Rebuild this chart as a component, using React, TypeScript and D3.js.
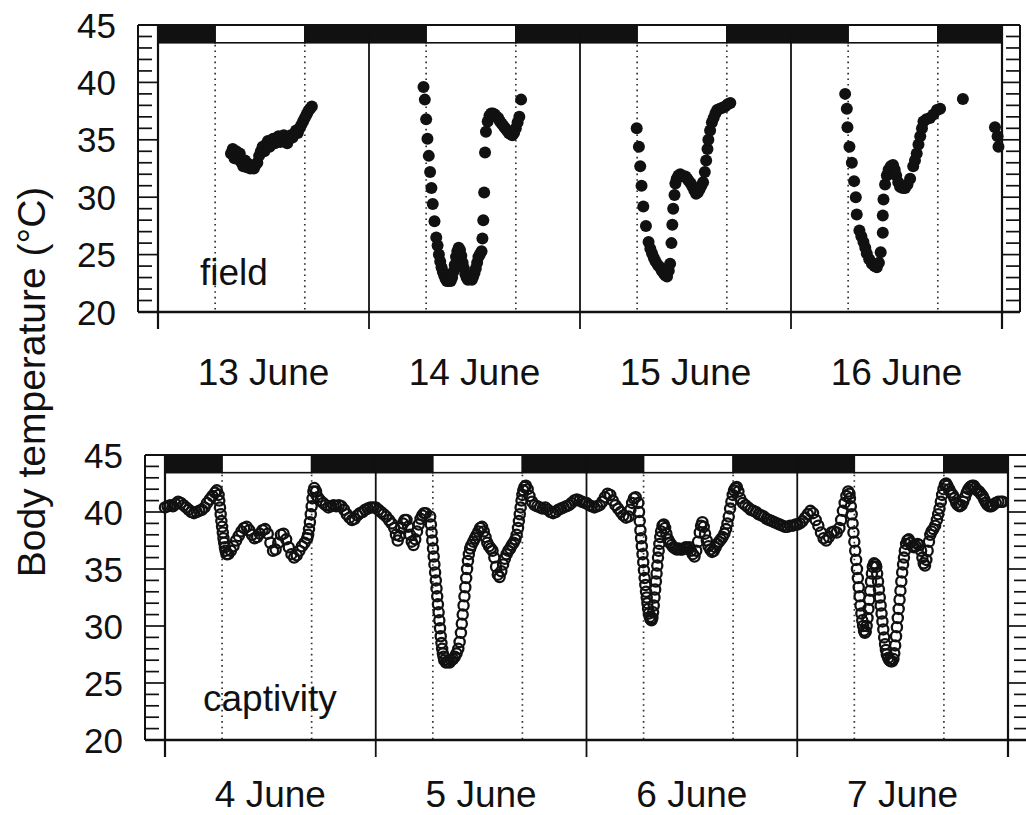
import * as d3 from 'd3';
import React from 'react';

// body temperature readings, [hour of day, °C]
const yTicks = [20, 25, 30, 35, 40, 45];
const fieldDays = ['13 June', '14 June', '15 June', '16 June'];
const captivityDays = ['4 June', '5 June', '6 June', '7 June'];
const sunrise = 6.5;
const sunset = 16.7;

const fieldJune13 = [
  [8.3, 33.8], [8.5, 34.2], [8.7, 33.4], [8.9, 34.0], [9.1, 33.3], [9.3, 33.8], [9.5, 33.0], [9.7, 32.7],
  [9.9, 33.2], [10.1, 32.6], [10.3, 32.9], [10.5, 32.5], [10.7, 32.7], [10.9, 32.5], [11.1, 32.8], [11.3, 33.0],
  [11.5, 33.6], [11.7, 34.0], [11.9, 34.4], [12.1, 34.0], [12.3, 34.6], [12.5, 34.9], [12.7, 34.4], [12.9, 34.8],
  [13.1, 35.1], [13.3, 34.7], [13.5, 35.0], [13.7, 35.3], [13.9, 34.8], [14.1, 35.2], [14.3, 35.4], [14.5, 35.0],
  [14.7, 34.7], [14.9, 35.1], [15.1, 35.4], [15.3, 35.2], [15.5, 35.5], [15.7, 35.8], [15.9, 35.6], [16.1, 36.0],
  [16.3, 36.3], [16.5, 36.6], [16.7, 36.9], [16.9, 37.2], [17.1, 37.5], [17.3, 37.7], [17.5, 37.9],
];
const fieldJune14 = [
  [6.2, 39.6], [6.35, 38.5], [6.5, 36.8], [6.65, 35.1], [6.8, 33.6], [6.95, 32.2], [7.1, 30.8], [7.25, 29.4],
  [7.45, 27.9], [7.65, 26.5], [7.8, 25.8], [7.95, 25.0], [8.1, 24.4], [8.25, 23.9], [8.4, 23.5], [8.55, 23.2],
  [8.7, 22.9], [8.85, 22.7], [9.0, 22.7], [9.15, 22.9], [9.3, 22.7], [9.45, 23.0], [9.6, 23.5], [9.75, 24.1],
  [9.9, 24.8], [10.05, 25.3], [10.2, 25.6], [10.35, 25.4], [10.5, 24.9], [10.65, 24.3], [10.8, 23.8], [10.95, 23.3],
  [11.1, 23.0], [11.25, 22.8], [11.4, 22.9], [11.55, 23.0], [11.7, 22.8], [11.85, 23.1], [12.0, 23.4], [12.15, 23.8],
  [12.3, 24.3], [12.45, 24.8], [12.6, 25.0], [12.8, 25.3], [12.9, 26.4], [13.0, 28.0], [13.1, 30.4], [13.2, 33.9],
  [13.3, 35.7], [13.5, 36.6], [13.7, 37.1], [13.9, 37.3], [14.1, 37.3], [14.3, 37.2], [14.5, 37.0], [14.7, 36.9],
  [14.9, 36.6], [15.1, 36.4], [15.3, 36.2], [15.5, 36.0], [15.7, 35.8], [15.9, 35.6], [16.1, 35.5], [16.3, 35.4],
  [16.5, 35.6], [16.7, 36.0], [16.9, 36.5], [17.1, 37.0], [17.3, 38.5],
];
const fieldJune15 = [
  [6.45, 36.0], [6.7, 34.4], [6.85, 32.7], [7.0, 31.0], [7.2, 29.2], [7.5, 27.5], [7.8, 26.1], [8.0, 25.5],
  [8.2, 25.1], [8.4, 24.7], [8.6, 24.4], [8.85, 24.1], [9.1, 23.9], [9.3, 23.6], [9.5, 23.4], [9.7, 23.2],
  [9.9, 23.1], [10.1, 23.6], [10.25, 24.2], [10.4, 26.0], [10.5, 27.6], [10.6, 29.0], [10.75, 30.2], [10.85, 31.2],
  [11.0, 31.6], [11.2, 31.9], [11.4, 32.0], [11.6, 31.9], [11.8, 31.8], [12.0, 31.8], [12.2, 31.6], [12.4, 31.4],
  [12.6, 31.2], [12.8, 30.9], [13.0, 30.6], [13.2, 30.3], [13.4, 30.4], [13.6, 30.7], [13.8, 31.0], [14.0, 31.3],
  [14.2, 32.2], [14.35, 33.2], [14.5, 34.2], [14.6, 35.0], [14.8, 35.8], [15.0, 36.5], [15.2, 36.9], [15.4, 37.3],
  [15.6, 37.6], [15.9, 37.7], [16.2, 37.8], [16.5, 37.9], [16.8, 38.1], [17.1, 38.2],
];
const fieldJune16 = [
  [6.16, 39.0], [6.35, 37.7], [6.42, 36.1], [6.65, 34.4], [6.92, 33.0], [7.18, 31.4], [7.37, 30.0], [7.48, 28.5],
  [7.78, 27.1], [8.0, 26.6], [8.24, 26.1], [8.45, 25.6], [8.62, 25.1], [8.9, 24.6], [9.2, 24.2], [9.5, 24.0],
  [9.76, 23.9], [10.0, 24.3], [10.2, 25.2], [10.44, 26.9], [10.44, 28.4], [10.52, 29.8], [10.7, 31.1], [10.9, 31.9],
  [11.1, 32.4], [11.35, 32.7], [11.6, 32.8], [11.8, 32.4], [11.96, 31.9], [12.2, 31.3], [12.4, 30.9], [12.7, 30.8],
  [12.98, 30.8], [13.25, 31.1], [13.55, 31.6], [13.9, 32.7], [14.1, 33.2], [14.3, 33.8], [14.5, 34.6], [14.7, 35.3],
  [14.9, 36.0], [15.07, 36.6], [15.4, 36.8], [15.8, 36.9], [16.2, 37.2], [16.6, 37.6], [16.96, 37.7], [19.55, 38.55],
  [23.2, 36.1], [23.5, 35.3], [23.6, 34.4],
];

const captJune4 = [
  [0.0, 40.4], [0.3, 40.5], [0.6, 40.6], [0.9, 40.5], [1.2, 40.7], [1.5, 40.9], [1.8, 40.8], [2.1, 40.6],
  [2.4, 40.4], [2.7, 40.2], [3.0, 40.0], [3.3, 39.9], [3.6, 40.0], [3.9, 40.1], [4.2, 40.2], [4.5, 40.4],
  [4.8, 40.8], [5.1, 41.1], [5.4, 41.4], [5.7, 41.7], [5.9, 41.9], [6.1, 41.5], [6.18, 41.0], [6.26, 40.4],
  [6.34, 39.8], [6.42, 39.2], [6.5, 38.7], [6.58, 38.2], [6.66, 37.7], [6.74, 37.3], [6.82, 36.9], [6.9, 36.6],
  [7.0, 36.3], [7.2, 36.3], [7.5, 36.6], [7.8, 37.0], [8.1, 37.5], [8.4, 37.9], [8.7, 38.3], [9.0, 38.6],
  [9.3, 38.7], [9.6, 38.4], [9.9, 38.0], [10.2, 37.7], [10.5, 37.8], [10.8, 38.1], [11.1, 38.4], [11.4, 38.5],
  [11.7, 38.1], [12.0, 37.3], [12.3, 36.6], [12.6, 36.7], [12.9, 37.3], [13.2, 38.0], [13.5, 38.1], [13.8, 37.6],
  [14.1, 36.9], [14.4, 36.3], [14.7, 36.0], [15.0, 36.2], [15.3, 36.6], [15.6, 37.0], [15.9, 37.3], [16.2, 37.7],
  [16.3, 38.0], [16.4, 38.5], [16.5, 39.1], [16.6, 39.8], [16.7, 40.5], [16.8, 41.2], [16.9, 41.8], [17.0, 42.1],
  [17.2, 41.8], [17.4, 41.3], [17.7, 41.0], [18.0, 40.8], [18.3, 40.6], [18.6, 40.4], [18.9, 40.5], [19.2, 40.6],
  [19.5, 40.5], [19.8, 40.6], [20.1, 40.5], [20.4, 40.2], [20.7, 39.8], [21.0, 39.5], [21.3, 39.3], [21.6, 39.4],
  [21.9, 39.7], [22.2, 39.9], [22.5, 40.0], [22.8, 40.2], [23.1, 40.3], [23.4, 40.4], [23.7, 40.4],
];
const captJune5 = [
  [0.0, 40.4], [0.3, 40.2], [0.6, 40.0], [0.9, 39.8], [1.2, 39.6], [1.5, 39.3], [1.8, 39.0], [2.1, 38.6],
  [2.3, 38.0], [2.5, 37.5], [2.7, 37.9], [2.9, 38.6], [3.1, 39.0], [3.3, 39.3], [3.5, 39.3], [3.7, 38.7],
  [3.9, 38.0], [4.1, 37.4], [4.3, 37.1], [4.5, 37.6], [4.7, 38.3], [4.9, 38.9], [5.1, 39.4], [5.3, 39.7],
  [5.5, 39.9], [5.7, 39.9], [6.2, 39.6], [6.28, 38.9], [6.36, 38.2], [6.44, 37.5], [6.52, 36.8], [6.6, 36.1],
  [6.68, 35.4], [6.76, 34.7], [6.84, 34.0], [6.92, 33.3], [7.0, 32.6], [7.08, 31.9], [7.16, 31.2], [7.24, 30.5],
  [7.32, 29.8], [7.4, 29.1], [7.48, 28.5], [7.56, 28.0], [7.64, 27.6], [7.72, 27.3], [7.8, 27.0], [8.0, 26.8],
  [8.2, 26.9], [8.4, 26.8], [8.6, 27.0], [8.8, 27.1], [9.0, 27.3], [9.2, 27.6], [9.4, 28.0], [9.55, 28.6],
  [9.7, 29.4], [9.8, 30.2], [9.9, 31.0], [10.0, 31.8], [10.1, 32.6], [10.2, 33.4], [10.3, 34.2], [10.4, 35.0],
  [10.5, 35.7], [10.6, 36.3], [10.75, 36.8], [10.9, 37.1], [11.1, 37.4], [11.3, 37.7], [11.5, 38.0], [11.7, 38.3],
  [11.9, 38.6], [12.1, 38.7], [12.3, 38.3], [12.5, 37.8], [12.7, 37.3], [12.9, 37.0], [13.1, 36.8], [13.3, 36.6],
  [13.5, 36.0], [13.7, 35.2], [13.9, 34.5], [14.1, 34.3], [14.3, 34.8], [14.5, 35.4], [14.7, 35.9], [14.9, 36.3],
  [15.1, 36.6], [15.3, 36.8], [15.5, 37.1], [15.7, 37.3], [15.9, 37.6], [16.05, 38.0], [16.2, 38.6], [16.3, 39.2],
  [16.4, 39.8], [16.5, 40.4], [16.6, 41.0], [16.7, 41.5], [16.8, 41.9], [16.95, 42.2], [17.1, 42.3], [17.3, 42.0],
  [17.5, 41.4], [17.8, 40.9], [18.1, 40.6], [18.4, 40.5], [18.7, 40.4], [19.0, 40.3], [19.3, 40.4], [19.6, 40.2],
  [19.9, 40.0], [20.2, 39.9], [20.5, 40.0], [20.8, 40.2], [21.1, 40.3], [21.4, 40.4], [21.7, 40.5], [22.0, 40.6],
  [22.3, 40.8], [22.6, 41.0], [22.9, 41.1], [23.2, 41.0], [23.5, 40.9], [23.8, 40.8],
];
const captJune6 = [
  [0.0, 40.8], [0.3, 40.6], [0.6, 40.5], [0.9, 40.4], [1.2, 40.5], [1.5, 40.6], [1.8, 40.9], [2.1, 41.3],
  [2.4, 41.6], [2.7, 41.5], [3.0, 41.0], [3.3, 40.6], [3.6, 40.3], [3.9, 40.0], [4.2, 39.7], [4.5, 39.5],
  [4.8, 39.6], [5.0, 40.2], [5.2, 40.8], [5.4, 41.2], [5.6, 41.3], [5.9, 40.8], [5.98, 40.0], [6.06, 39.2],
  [6.14, 38.4], [6.22, 37.7], [6.3, 37.0], [6.38, 36.3], [6.46, 35.6], [6.54, 34.9], [6.62, 34.2], [6.7, 33.6],
  [6.78, 33.0], [6.86, 32.5], [6.94, 32.0], [7.02, 31.5], [7.1, 31.1], [7.2, 30.8], [7.3, 30.6], [7.4, 30.5],
  [7.5, 30.7], [7.58, 31.2], [7.66, 31.8], [7.74, 32.5], [7.82, 33.2], [7.9, 33.9], [7.98, 34.6], [8.06, 35.3],
  [8.14, 36.0], [8.22, 36.6], [8.3, 37.2], [8.4, 37.8], [8.5, 38.3], [8.65, 38.8], [8.8, 38.9], [8.95, 38.6],
  [9.1, 38.1], [9.3, 37.6], [9.5, 37.3], [9.7, 37.1], [9.9, 36.9], [10.1, 36.8], [10.3, 36.7], [10.5, 36.8],
  [10.7, 36.7], [10.9, 36.7], [11.1, 36.8], [11.3, 36.9], [11.5, 36.8], [11.7, 36.9], [11.9, 36.6], [12.1, 36.3],
  [12.3, 36.1], [12.5, 36.6], [12.7, 37.4], [12.9, 38.2], [13.05, 38.8], [13.2, 39.1], [13.35, 38.7], [13.5, 38.1],
  [13.7, 37.5], [13.9, 37.0], [14.1, 36.7], [14.3, 36.5], [14.5, 36.6], [14.7, 36.9], [14.9, 37.2], [15.1, 37.4],
  [15.3, 37.6], [15.5, 37.8], [15.7, 38.1], [15.9, 38.5], [16.05, 39.0], [16.2, 39.6], [16.35, 40.3], [16.5, 40.9],
  [16.65, 41.5], [16.8, 41.9], [16.95, 42.1], [17.1, 42.2], [17.3, 41.8], [17.5, 41.2], [17.8, 40.8], [18.1, 40.6],
  [18.4, 40.4], [18.7, 40.2], [19.0, 40.1], [19.3, 40.0], [19.6, 39.8], [19.9, 39.7], [20.2, 39.6], [20.5, 39.4],
  [20.8, 39.3], [21.1, 39.2], [21.4, 39.1], [21.7, 39.0], [22.0, 38.9], [22.3, 38.8], [22.6, 38.7], [22.9, 38.7],
  [23.2, 38.8], [23.5, 38.8], [23.8, 38.9],
];
const captJune7 = [
  [0.0, 38.9], [0.3, 39.0], [0.6, 39.2], [0.9, 39.5], [1.2, 39.8], [1.5, 40.1], [1.8, 39.9], [2.1, 39.3],
  [2.4, 38.8], [2.7, 38.2], [3.0, 37.7], [3.3, 37.5], [3.6, 37.8], [3.9, 38.2], [4.2, 38.3], [4.5, 38.2],
  [4.8, 38.6], [5.0, 39.3], [5.2, 40.1], [5.4, 40.8], [5.6, 41.4], [5.8, 41.8], [5.95, 41.6], [6.0, 41.2],
  [6.1, 40.5], [6.2, 39.8], [6.3, 39.0], [6.4, 38.2], [6.5, 37.4], [6.6, 36.6], [6.7, 35.8], [6.8, 35.0],
  [6.9, 34.2], [7.0, 33.4], [7.1, 32.6], [7.2, 31.8], [7.3, 31.1], [7.4, 30.5], [7.5, 30.0], [7.6, 29.6],
  [7.7, 29.4], [7.8, 29.5], [7.9, 30.0], [8.0, 30.7], [8.1, 31.5], [8.2, 32.3], [8.3, 33.1], [8.4, 33.9],
  [8.5, 34.6], [8.6, 35.2], [8.75, 35.5], [8.9, 35.4], [9.0, 35.2], [9.1, 34.6], [9.2, 33.9], [9.3, 33.2],
  [9.4, 32.5], [9.5, 31.8], [9.6, 31.1], [9.7, 30.4], [9.8, 29.7], [9.9, 29.0], [10.0, 28.4], [10.1, 27.9],
  [10.2, 27.5], [10.35, 27.2], [10.5, 27.0], [10.65, 26.9], [10.8, 26.9], [10.95, 27.1], [11.05, 27.6], [11.15, 28.3],
  [11.25, 29.1], [11.35, 29.9], [11.45, 30.7], [11.55, 31.5], [11.65, 32.3], [11.75, 33.1], [11.85, 33.9], [11.95, 34.7],
  [12.05, 35.4], [12.15, 36.0], [12.25, 36.6], [12.4, 37.2], [12.55, 37.5], [12.7, 37.6], [12.9, 37.3], [13.1, 37.0],
  [13.3, 36.9], [13.5, 37.0], [13.7, 37.2], [13.9, 37.1], [14.1, 36.6], [14.25, 36.0], [14.4, 35.5], [14.55, 35.3],
  [14.7, 35.8], [14.85, 36.6], [15.0, 37.4], [15.15, 38.0], [15.3, 38.3], [15.5, 38.5], [15.7, 38.8], [15.9, 39.3],
  [16.05, 39.8], [16.2, 40.3], [16.35, 40.9], [16.5, 41.5], [16.65, 42.0], [16.8, 42.4], [16.95, 42.5], [17.1, 42.3],
  [17.3, 42.0], [17.5, 41.7], [17.7, 41.5], [17.9, 41.2], [18.1, 40.8], [18.3, 40.6], [18.5, 40.5], [18.7, 40.6],
  [18.9, 40.9], [19.1, 41.3], [19.3, 41.7], [19.5, 42.0], [19.7, 42.2], [19.9, 42.3], [20.1, 42.3], [20.3, 42.1],
  [20.5, 41.9], [20.7, 41.8], [20.9, 41.6], [21.1, 41.4], [21.3, 41.1], [21.5, 40.8], [21.7, 40.6], [21.9, 40.5],
  [22.1, 40.5], [22.3, 40.6], [22.6, 40.8], [22.9, 40.9], [23.2, 40.9], [23.4, 40.9],
];

const fieldSeries = [fieldJune13, fieldJune14, fieldJune15, fieldJune16];
const captivitySeries = [captJune4, captJune5, captJune6, captJune7];

const FONT = '"Liberation Sans", Arial, Helvetica, sans-serif';
const INK = '#111';

function Panel({ x0, x1, yBottom, yTop, boxL, boxR, days, series, filled, label, labelX, labelY, dateY }) {
  const x = d3.scaleLinear().domain([0, 96]).range([x0, x1]);
  const y = d3.scaleLinear().domain([20, 45]).range([yBottom, yTop]);
  const barBottom = y(43.45);

  const minor = d3.range(21, 45).filter((v) => v % 5 !== 0);
  const segments = [];
  days.forEach((_, i) => {
    const o = i * 24;
    segments.push({ a: o, b: o + sunrise, dark: true });
    segments.push({ a: o + sunrise, b: o + sunset, dark: false });
    segments.push({ a: o + sunset, b: o + 24, dark: true });
  });

  const points = [];
  series.forEach((s, i) => s.forEach(([h, t]) => points.push({ h: i * 24 + h, t })));

  return (
    <g>
      {/* tick boxes on both sides */}
      {minor.map((v) => (
        <g key={'m' + v}>
          <line x1={boxL} x2={boxL + 14} y1={y(v)} y2={y(v)} stroke={INK} strokeWidth={1.7} />
          <line x1={boxR} x2={boxR - 14} y1={y(v)} y2={y(v)} stroke={INK} strokeWidth={1.7} />
        </g>
      ))}
      {yTicks.map((v) => (
        <g key={'M' + v}>
          <line x1={boxL} x2={x0} y1={y(v)} y2={y(v)} stroke={INK} strokeWidth={1.7} />
          <line x1={x1} x2={boxR} y1={y(v)} y2={y(v)} stroke={INK} strokeWidth={1.7} />
          <text x={x0 - 42} y={y(v)} dy="0.36em" textAnchor="end" fontSize={35} fontFamily={FONT} fill={INK}>
            {v}
          </text>
        </g>
      ))}
      <line x1={boxL} x2={boxL} y1={yTop} y2={yBottom} stroke={INK} strokeWidth={2} />
      <line x1={boxR} x2={boxR} y1={yTop} y2={yBottom} stroke={INK} strokeWidth={2} />

      {/* light/dark bar */}
      {segments.map((s, i) => (
        <rect
          key={'s' + i}
          x={x(s.a)}
          y={yTop}
          width={x(s.b) - x(s.a)}
          height={barBottom - yTop}
          fill={s.dark ? INK : '#fff'}
          stroke={INK}
          strokeWidth={1.6}
        />
      ))}

      {/* sunrise / sunset */}
      {days.map((_, i) =>
        [sunrise, sunset].map((h) => (
          <line
            key={'d' + i + h}
            x1={x(i * 24 + h)}
            x2={x(i * 24 + h)}
            y1={barBottom + 2}
            y2={yBottom}
            stroke="#333"
            strokeWidth={1.7}
            strokeDasharray="1.6 4"
          />
        ))
      )}

      {/* day boundaries */}
      {d3.range(0, 5).map((i) => (
        <line key={'b' + i} x1={x(i * 24)} x2={x(i * 24)} y1={yTop} y2={yBottom + 17} stroke={INK} strokeWidth={i === 0 || i === 4 ? 2.2 : 1.8} />
      ))}
      <line x1={boxL} x2={boxR} y1={yTop} y2={yTop} stroke={INK} strokeWidth={2.2} />
      <line x1={boxL} x2={boxR} y1={yBottom} y2={yBottom} stroke={INK} strokeWidth={2.4} />

      {days.map((d, i) => (
        <text key={d} x={x(i * 24 + 12)} y={dateY} textAnchor="middle" fontSize={37} fontFamily={FONT} fill={INK}>
          {d}
        </text>
      ))}

      <text x={labelX} y={labelY} fontSize={37} fontFamily={FONT} fill={INK}>
        {label}
      </text>

      {points.map((p, i) =>
        filled ? (
          <circle key={'p' + i} cx={x(p.h)} cy={y(p.t)} r={6} fill={INK} />
        ) : (
          <circle key={'p' + i} cx={x(p.h)} cy={y(p.t)} r={5.1} fill="none" stroke={INK} strokeWidth={2.3} />
        )
      )}
    </g>
  );
}

export default function App() {
  return (
    <svg width={1026} height={815} style={{ position: 'absolute', left: 0, top: 0, background: '#fff' }}>
      <rect width={1026} height={815} fill="#fff" />
      <Panel
        x0={158}
        x1={1002}
        yBottom={312}
        yTop={25}
        boxL={138}
        boxR={1020}
        days={fieldDays}
        series={fieldSeries}
        filled={true}
        label="field"
        labelX={200}
        labelY={285}
        dateY={385}
      />
      <Panel
        x0={165}
        x1={1008}
        yBottom={740}
        yTop={455}
        boxL={145}
        boxR={1028}
        days={captivityDays}
        series={captivitySeries}
        filled={false}
        label="captivity"
        labelX={203}
        labelY={711}
        dateY={807}
      />
      <text
        transform="translate(45,382) rotate(-90)"
        textAnchor="middle"
        fontSize={39}
        fontFamily={FONT}
        fill={INK}
      >
        Body temperature (°C)
      </text>
    </svg>
  );
}
